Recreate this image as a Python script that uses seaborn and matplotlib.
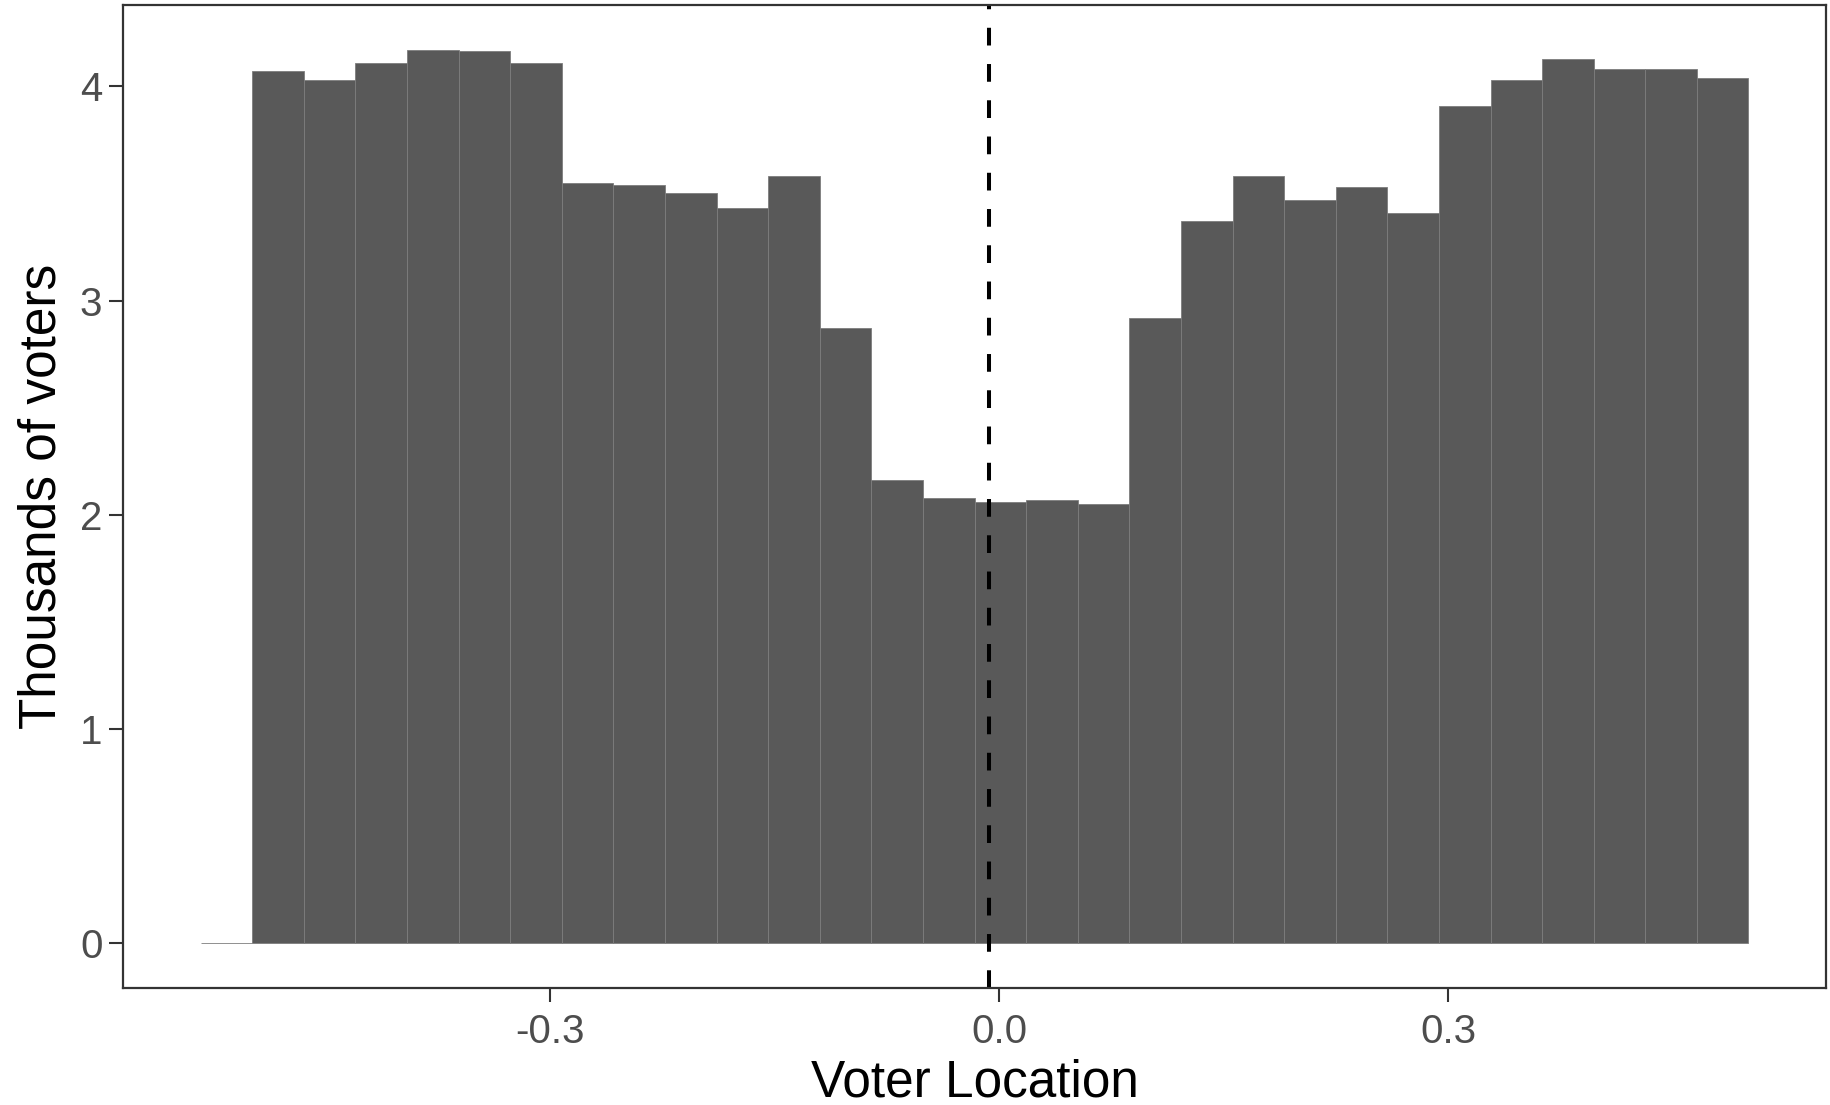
import matplotlib
matplotlib.use("Agg")
import matplotlib.pyplot as plt
import numpy as np
import pandas as pd
import seaborn as sns

# histogram bins (ggplot default of 30 bins), heights in thousands of voters
bin_lo = -0.5337
bin_hi = 0.5006
n_bins = 30
counts = [0.0, 4.07, 4.03, 4.11, 4.17, 4.165, 4.11, 3.55, 3.54, 3.50, 3.43,
          3.58, 2.87, 2.16, 2.08, 2.06, 2.07, 2.05, 2.92, 3.37, 3.58,
          3.47, 3.53, 3.41, 3.91, 4.03, 4.13, 4.08, 4.08, 4.04]
cutoff = -0.0067  # dashed reference line
x_ticks = [-0.3, 0.0, 0.3]
x_ticklabels = ["-0.3", "0.0", "0.3"]
y_ticks = [0, 1, 2, 3, 4]

edges = np.linspace(bin_lo, bin_hi, n_bins + 1)
df = pd.DataFrame({"loc": (edges[:-1] + edges[1:]) / 2, "n": counts})

sns.set_theme(style="white")
plt.rcParams['font.family'] = ['Liberation Sans', 'DejaVu Sans']

fig = plt.figure(figsize=(18.31, 11.05), dpi=100)
ax = fig.add_axes([0.0673, 0.1062, 0.9299, 0.8890])

sns.histplot(data=df, x="loc", weights="n", bins=n_bins,
             binrange=(bin_lo, bin_hi), ax=ax,
             color="#595959", alpha=1, edgecolor="#7d7d7d", linewidth=0.6)
ax.axvline(cutoff, color="black", lw=2.9, linestyle=(0, (4.4, 4.6)))

span = bin_hi - bin_lo
ax.set_xlim(bin_lo - 0.05 * span, bin_hi + 0.05 * span)
ymax = max(counts)
ax.set_ylim(-0.05 * ymax, ymax * 1.05)

ax.set_xticks(x_ticks)
ax.set_xticklabels(x_ticklabels)
ax.set_yticks(y_ticks)
ax.tick_params(axis="both", which="major", length=10, width=1.5,
               color="#333333", labelcolor="#4d4d4d", labelsize=29,
               bottom=True, left=True)
ax.tick_params(axis="x", pad=8)
ax.tick_params(axis="y", pad=5)

ax.set_xlabel("Voter Location", fontsize=37, color="black", labelpad=6)
ax.set_ylabel("Thousands of voters", fontsize=37, color="black", labelpad=10)

for s in ax.spines.values():
    s.set_color("#333333")
    s.set_linewidth(1.6)
ax.grid(False)

fig.savefig("out.png", dpi=100)
